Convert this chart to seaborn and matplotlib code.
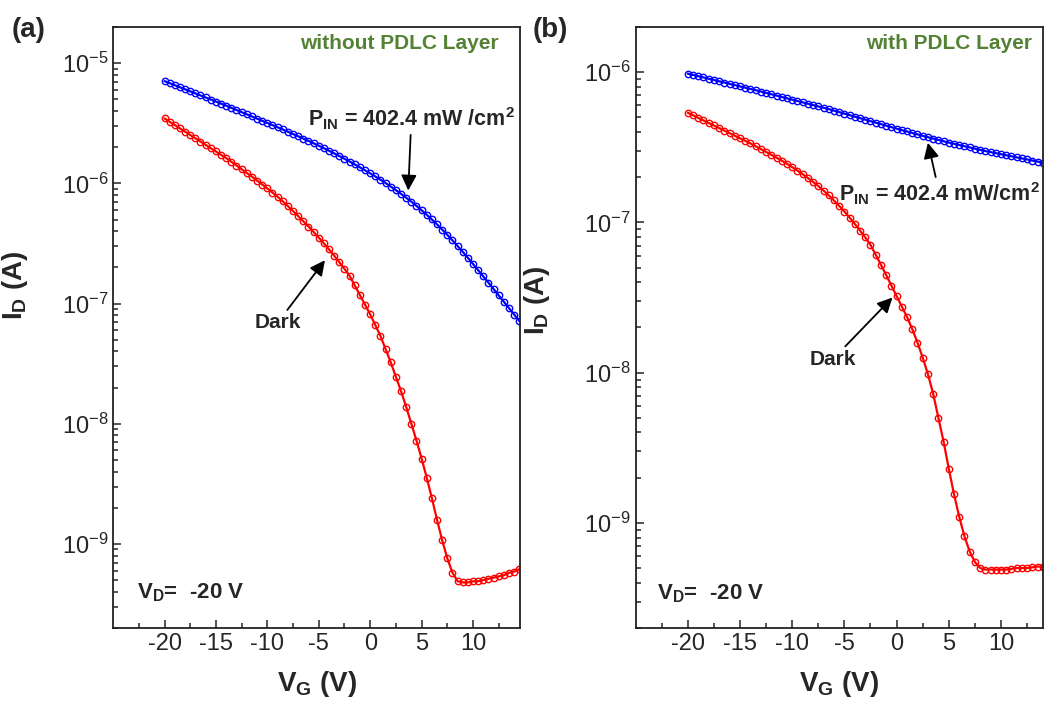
#!/usr/bin/env python3
"""
Phototransistor transfer curves (I_D vs V_G), dark vs illuminated,
without / with PDLC layer.
"""

import matplotlib
matplotlib.use("Agg")
import matplotlib.pyplot as plt
import numpy as np
import pandas as pd
import seaborn as sns

# gate voltage sweep (V)
vg_a = np.arange(-20, 14.51, 0.5)
vg_b = np.arange(-20, 14.01, 0.5)

# log10(I_D / A) -- panel (a), without PDLC layer
light_a_log10 = [
    -5.150, -5.167, -5.184, -5.201, -5.218, -5.235, -5.252, -5.269, -5.286, -5.303,
    -5.320, -5.337, -5.354, -5.372, -5.390, -5.408, -5.426, -5.444, -5.462, -5.480,
    -5.498, -5.516, -5.534, -5.552, -5.571, -5.590, -5.609, -5.628, -5.647, -5.667,
    -5.687, -5.708, -5.729, -5.751, -5.773, -5.796, -5.819, -5.843, -5.867, -5.892,
    -5.917, -5.943, -5.970, -5.998, -6.027, -6.057, -6.088, -6.120, -6.153, -6.188,
    -6.224, -6.262, -6.301, -6.342, -6.385, -6.429, -6.475, -6.522, -6.570, -6.620,
    -6.671, -6.723, -6.775, -6.827, -6.880, -6.933, -6.986, -7.039, -7.092, -7.145,
]
dark_a_log10 = [
    -5.460, -5.488, -5.515, -5.543, -5.570, -5.598, -5.625, -5.653, -5.680, -5.708,
    -5.735, -5.763, -5.790, -5.821, -5.852, -5.883, -5.914, -5.945, -5.977, -6.010,
    -6.043, -6.077, -6.112, -6.150, -6.190, -6.231, -6.273, -6.316, -6.360, -6.405,
    -6.452, -6.500, -6.550, -6.602, -6.656, -6.712, -6.770, -6.850, -6.930, -7.010,
    -7.090, -7.180, -7.270, -7.380, -7.490, -7.610, -7.730, -7.860, -8.000, -8.140,
    -8.290, -8.450, -8.620, -8.800, -8.970, -9.120, -9.240, -9.310, -9.320, -9.320,
    -9.310, -9.310, -9.300, -9.290, -9.280, -9.270, -9.260, -9.240, -9.230, -9.210,
]

# panel (b), with PDLC layer
light_b_log10 = [
    -6.010, -6.018, -6.027, -6.035, -6.044, -6.052, -6.061, -6.069, -6.078, -6.086,
    -6.095, -6.103, -6.112, -6.120, -6.129, -6.138, -6.147, -6.156, -6.165, -6.174,
    -6.183, -6.192, -6.201, -6.210, -6.219, -6.228, -6.237, -6.246, -6.256, -6.266,
    -6.276, -6.286, -6.296, -6.306, -6.316, -6.326, -6.336, -6.346, -6.356, -6.366,
    -6.376, -6.386, -6.395, -6.405, -6.414, -6.424, -6.433, -6.442, -6.451, -6.460,
    -6.469, -6.477, -6.485, -6.493, -6.501, -6.509, -6.517, -6.525, -6.532, -6.539,
    -6.546, -6.553, -6.560, -6.567, -6.574, -6.581, -6.588, -6.595, -6.602,
]
dark_b_log10 = [
    -6.270, -6.287, -6.304, -6.321, -6.338, -6.355, -6.372, -6.389, -6.406, -6.423,
    -6.440, -6.457, -6.474, -6.493, -6.512, -6.531, -6.550, -6.569, -6.589, -6.610,
    -6.632, -6.655, -6.679, -6.704, -6.730, -6.758, -6.788, -6.820, -6.854, -6.890,
    -6.928, -6.968, -7.010, -7.054, -7.100, -7.150, -7.215, -7.282, -7.350, -7.420,
    -7.490, -7.560, -7.630, -7.710, -7.800, -7.900, -8.010, -8.140, -8.300, -8.460,
    -8.640, -8.810, -8.960, -9.090, -9.190, -9.260, -9.300, -9.310, -9.310, -9.310,
    -9.310, -9.310, -9.305, -9.300, -9.300, -9.300, -9.295, -9.290, -9.290,
]

x_ticks = [-20, -15, -10, -5, 0, 5, 10]
x_minor = [-22.5, -17.5, -12.5, -7.5, -2.5, 2.5, 7.5, 12.5]

GREEN = "#548235"


def draw_panel(ax, vg, light_log, dark_log, ylim, xmax):
    df = pd.DataFrame({
        "VG": np.concatenate([vg, vg]),
        "ID": 10 ** np.concatenate([light_log, dark_log]),
        "cond": ["light"] * len(vg) + ["dark"] * len(vg),
    })
    for cond, color in [("light", "#0000FF"), ("dark", "#FF0000")]:
        sns.lineplot(
            data=df[df["cond"] == cond], x="VG", y="ID", color=color,
            marker="o", markersize=4.6, markerfacecolor="none",
            markeredgecolor=color, markeredgewidth=1.0, linewidth=1.6,
            sort=False, ax=ax,
        )
    ax.set_yscale("log")
    ax.set_ylim(*ylim)
    ax.set_xlim(-25, xmax)
    ax.set_xticks(x_ticks)
    ax.set_xticks(x_minor, minor=True)
    ax.set_xticklabels([str(t) for t in x_ticks])
    ax.yaxis.set_minor_formatter(matplotlib.ticker.NullFormatter())
    ax.tick_params(which="both", direction="in", width=1.1, labelsize=17,
                   top=False, right=False)
    ax.tick_params(which="major", length=6)
    ax.tick_params(which="minor", length=3.5)
    for sp in ax.spines.values():
        sp.set_linewidth(1.3)
        sp.set_color("#222222")
    ax.set_xlabel("V$_G$ (V)", fontsize=20, fontweight="bold", labelpad=10)
    ax.set_ylabel("I$_D$ (A)", fontsize=20, fontweight="bold")
    ax.grid(False)


sns.set_theme(style="ticks")
plt.rcParams["font.family"] = ["Liberation Sans", "DejaVu Sans"]
plt.rcParams["mathtext.default"] = "regular"
plt.rcParams["axes.unicode_minus"] = False

fig = plt.figure(figsize=(10.47, 7.08), dpi=100)
ax_a = fig.add_axes([0.108, 0.113, 0.389, 0.849])
ax_b = fig.add_axes([0.607, 0.113, 0.389, 0.849])

# (a) without PDLC layer
draw_panel(ax_a, vg_a, light_a_log10, dark_a_log10, (2e-10, 2e-5), 14.6)
ax_a.yaxis.set_label_coords(-0.205, 0.57)
ax_a.text(0.946, 0.973, "without PDLC Layer", transform=ax_a.transAxes,
          ha="right", va="center", fontsize=15, fontweight="bold", color=GREEN)
ax_a.text(0.059, 0.058, "V$_D$=  -20 V", transform=ax_a.transAxes,
          ha="left", va="center", fontsize=16, fontweight="bold")
arrow = dict(arrowstyle="-|>,head_length=0.6,head_width=0.3", color="black", lw=1.3,
             shrinkA=0, shrinkB=0)
ax_a.annotate("P$_{IN}$ = 402.4 mW /cm$^2$", xy=(3.7, 10 ** -6.06),
              xytext=(4.0, 10 ** -5.57), ha="center", va="bottom",
              fontsize=15.5, fontweight="bold", arrowprops=arrow)
ax_a.annotate("Dark", xy=(-4.4, 10 ** -6.64), xytext=(-9.0, 10 ** -7.16),
              ha="center", va="center", fontsize=15, fontweight="bold",
              arrowprops=arrow)

# (b) with PDLC layer
draw_panel(ax_b, vg_b, light_b_log10, dark_b_log10, (2e-10, 2e-6), 14.0)
ax_b.yaxis.set_label_coords(-0.205, 0.545)
ax_b.text(0.973, 0.973, "with PDLC Layer", transform=ax_b.transAxes,
          ha="right", va="center", fontsize=15, fontweight="bold", color=GREEN)
ax_b.text(0.052, 0.057, "V$_D$=  -20 V", transform=ax_b.transAxes,
          ha="left", va="center", fontsize=16, fontweight="bold")
ax_b.annotate("P$_{IN}$ = 402.4 mW/cm$^2$", xy=(3.0, 10 ** -6.47),
              xytext=(4.1, 10 ** -6.72), ha="center", va="top",
              fontsize=15.5, fontweight="bold", arrowprops=arrow)
ax_b.annotate("Dark", xy=(-0.4, 10 ** -7.50), xytext=(-6.1, 10 ** -7.91),
              ha="center", va="center", fontsize=15, fontweight="bold",
              arrowprops=arrow)

fig.text(0.011, 0.958, "(a)", ha="left", va="center", fontsize=20, fontweight="bold")
fig.text(0.509, 0.958, "(b)", ha="left", va="center", fontsize=20, fontweight="bold")

fig.savefig("out.png", dpi=100)
plt.close(fig)
print("Saved out.png")
